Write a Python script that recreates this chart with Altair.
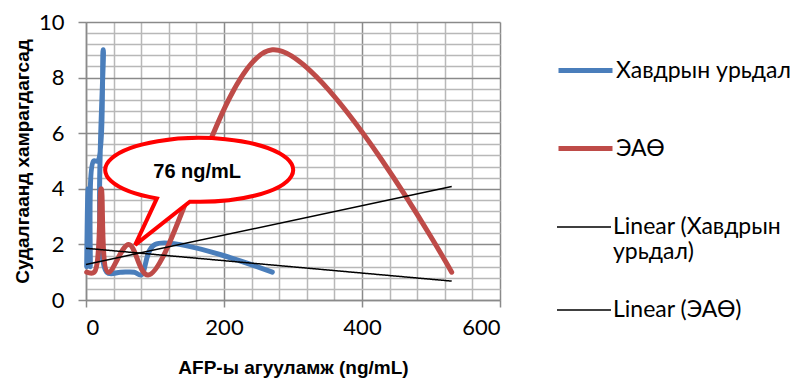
import altair as alt
import pandas as pd

# ---- data ----
series_names = ["Хавдрын урьдал", "ЭАӨ"]
trend_names = ["Linear (Хавдрын урьдал)", "Linear (ЭАӨ)"]

blue_x = [1, 3, 6, 11, 17, 25, 30, 50, 70, 80, 100, 270]
blue_y = [1.2, 4, 1.2, 5, 5, 9, 1, 1, 1, 0.9, 2, 1]

red_x = [1, 12, 22, 32, 62, 90, 270, 530]
red_y = [1, 1, 4, 1, 2, 0.9, 9, 1]

trend_blue_x = [0, 530]
trend_blue_y = [1.86, 0.68]
trend_red_x = [0, 530]
trend_red_y = [1.28, 4.08]

callout_x = [164]
callout_y = [4.68]
callout_text = ["76 ng/mL"]

x_ticks = list(range(0, 601, 40))
y_ticks = [round(i * 0.4, 1) for i in range(26)]


def frame(col, name, xs, ys):
    return pd.DataFrame({col: name, "x": xs, "y": ys, "i": list(range(len(xs)))})


data_df = pd.concat([frame("series", series_names[0], blue_x, blue_y),
                     frame("series", series_names[1], red_x, red_y)])
trend_a_df = frame("ta", trend_names[0], trend_blue_x, trend_blue_y)
trend_b_df = frame("tb", trend_names[1], trend_red_x, trend_red_y)
callout_df = pd.DataFrame({"x": callout_x, "y": callout_y, "t": callout_text})

y_major = "abs(datum.value - round(datum.value / 2) * 2) < 0.01"

x_axis = alt.Axis(
    values=x_ticks, tickCount=100,
    labelExpr="datum.value % 200 == 0 ? format(datum.value, 'd') : ''",
    labelOverlap=False,
    gridColor={"condition": {"test": "datum.value % 200 == 0", "value": "#8a8a8a"}, "value": "#b8b8b8"},
    tickOpacity={"condition": {"test": "datum.value % 200 == 0", "value": 1}, "value": 0},
    tickColor="#8a8a8a", tickSize=7, tickWidth=1.5,
    domainColor="#8a8a8a", domainWidth=1.5,
    gridWidth=1.5,
    labelFont="Lato", labelFontSize=22, labelColor="#000000", labelPadding=10,
    title="AFP-ы агууламж (ng/mL)", titleFont="Liberation Sans", titleFontSize=19,
    titleFontWeight="bold", titleColor="#000000", titlePadding=20,
)
y_axis = alt.Axis(
    values=y_ticks, tickCount=100,
    labelExpr=y_major + " ? format(round(datum.value), 'd') : ''",
    labelOverlap=False,
    gridColor={"condition": {"test": y_major, "value": "#8a8a8a"}, "value": "#b8b8b8"},
    tickOpacity={"condition": {"test": y_major, "value": 1}, "value": 0},
    tickColor="#8a8a8a", tickSize=8, tickWidth=1.5,
    domainColor="#8a8a8a", domainWidth=1.5,
    gridWidth=1.5,
    labelFont="Lato", labelFontSize=22, labelColor="#000000", labelPadding=14,
    title="Судалгаанд хамрагдагсад", titleFont="Liberation Sans", titleFontSize=19,
    titleFontWeight="bold", titleColor="#000000", titlePadding=6,
)

xs = alt.Scale(domain=[0, 600], nice=False)
ys = alt.Scale(domain=[0, 10], nice=False)

common_legend = dict(
    title=None, orient="none", legendX=470, symbolType="stroke", symbolSize=2916,
    labelFont="Lato", labelFontSize=23, labelColor="#000000", labelOffset=1, labelLimit=300,
)

# optional multi-line spacing for the wrapped legend label, only if the schema accepts it
line_height_opt = {}
try:
    alt.Legend(labelLineHeight=30).to_dict()
    line_height_opt = {"labelLineHeight": 30}
except Exception:
    line_height_opt = {}

leg1 = alt.Legend(legendY=19, rowPadding=36, symbolStrokeWidth=5, **common_legend)
leg2 = alt.Legend(legendY=177, symbolStrokeWidth=1.5, symbolStrokeColor="#000000",
                  labelExpr="['Linear (Хавдрын', 'урьдал)']", **line_height_opt, **common_legend)
leg3 = alt.Legend(legendY=260, symbolStrokeColor="#000000", **common_legend)

lines = alt.Chart(data_df).mark_line(
    interpolate="catmull-rom", strokeCap="round", strokeJoin="round", strokeWidth=5
).encode(
    x=alt.X("x:Q", scale=xs, axis=x_axis),
    y=alt.Y("y:Q", scale=ys, axis=y_axis),
    color=alt.Color("series:N", scale=alt.Scale(domain=series_names, range=["#4a7ebb", "#be4b48"]),
                    legend=leg1),
    order="i:Q",
)
trend_a = alt.Chart(trend_a_df).mark_line(color="#000000", strokeWidth=1.5).encode(
    x=alt.X("x:Q", scale=xs), y=alt.Y("y:Q", scale=ys),
    strokeDash=alt.StrokeDash("ta:N", scale=alt.Scale(domain=trend_names[:1], range=[[1, 0]]), legend=leg2),
    order="i:Q",
)
trend_b = alt.Chart(trend_b_df).mark_line(color="#000000").encode(
    x=alt.X("x:Q", scale=xs), y=alt.Y("y:Q", scale=ys),
    strokeWidth=alt.StrokeWidth("tb:N", scale=alt.Scale(type="ordinal", domain=trend_names[1:], range=[1.5]),
                                legend=leg3),
    order="i:Q",
)

callout_path = "M -0.1 0.3383 A 1 0.34 0 1 0 -0.45 0.3036 L -0.681 0.798 Z"
bubble = alt.Chart(callout_df).mark_point(
    shape=callout_path, size=35344, filled=True, fill="#ffffff", stroke="#ff0000",
    strokeWidth=4, opacity=1, fillOpacity=1, strokeOpacity=1, strokeJoin="miter",
).encode(x=alt.X("x:Q", scale=xs), y=alt.Y("y:Q", scale=ys))
bubble_text = alt.Chart(callout_df).mark_text(
    font="Liberation Sans", fontWeight="bold", fontSize=20, color="#000000", dx=-2, dy=2,
).encode(x=alt.X("x:Q", scale=xs), y=alt.Y("y:Q", scale=ys), text="t:N")

chart = alt.layer(lines, trend_a, trend_b, bubble, bubble_text).properties(
    width=414, height=278,
    autosize=alt.AutoSizeParams(type="none"),
    padding={"left": 86, "top": 22, "right": 298, "bottom": 80},
    background="#ffffff",
).configure_view(strokeWidth=0)

chart.save("out.html", embed_options={"renderer": "svg", "actions": False})
